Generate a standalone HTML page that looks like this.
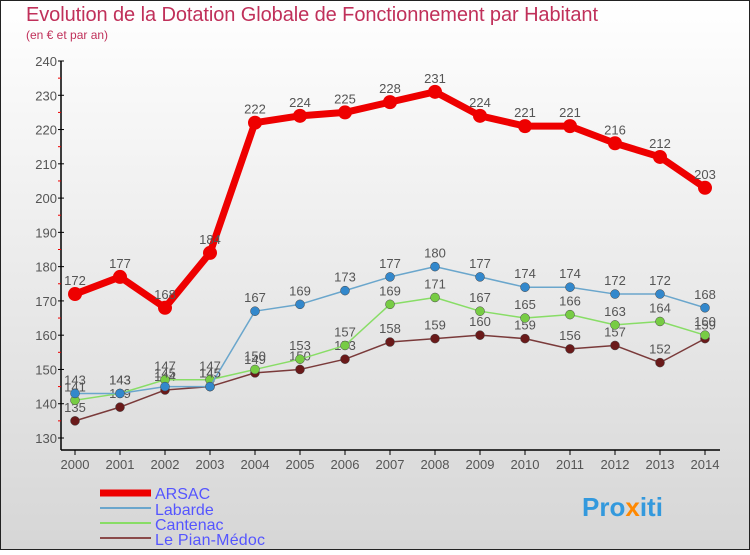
<!DOCTYPE html>
<html><head><meta charset="utf-8"><style>
body{margin:0}
#c{width:750px;height:550px;position:relative;font-family:"Liberation Sans",sans-serif}
svg text{font-family:"Liberation Sans",sans-serif}
</style></head><body>
<div id="c">
<svg id="s" width="750" height="550" xmlns="http://www.w3.org/2000/svg">
<defs><linearGradient id="bg" x1="0" y1="0" x2="0" y2="1"><stop offset="0" stop-color="#ffffff"/><stop offset="1" stop-color="#d6d6d6"/></linearGradient></defs>
<rect x="0.5" y="0.5" width="749" height="549" fill="url(#bg)" stroke="#222"/>
<text x="26" y="21" font-size="20" fill="#c0305a" textLength="572">Evolution de la Dotation Globale de Fonctionnement par Habitant</text>
<text x="26" y="39" font-size="12" fill="#c0305a">(en € et par an)</text>
<g id="axes"></g><g id="series"></g>
<g>
<line x1="100" y1="493" x2="151" y2="493" stroke="#ee0000" stroke-width="7"/>
<text x="155" y="499" font-size="16" fill="#5555ff">ARSAC</text>
<line x1="100" y1="508" x2="151" y2="508" stroke="#6aa6cc" stroke-width="2"/>
<text x="155" y="515" font-size="16" fill="#5555ff">Labarde</text>
<line x1="100" y1="523" x2="151" y2="523" stroke="#88dd66" stroke-width="2"/>
<text x="155" y="530" font-size="16" fill="#5555ff">Cantenac</text>
<line x1="100" y1="538" x2="151" y2="538" stroke="#8a4a4a" stroke-width="2"/>
<text x="155" y="545" font-size="16" fill="#5555ff" textLength="110">Le Pian-Médoc</text>
</g>
<text x="582" y="516" font-size="26" font-weight="bold" fill="#3399dd">Pro<tspan fill="#ff8800">x</tspan>iti</text>
</svg></div>
<script>
const years=[2000,2001,2002,2003,2004,2005,2006,2007,2008,2009,2010,2011,2012,2013,2014];
const arsac=[172,177,168,184,222,224,225,228,231,224,221,221,216,212,203];
const labarde=[143,143,145,145,167,169,173,177,180,177,174,174,172,172,168];
const cantenac=[141,143,147,147,150,153,157,169,171,167,165,166,163,164,160];
const pian=[135,139,144,145,149,150,153,158,159,160,159,156,157,152,159];
const yTicks=[130,140,150,160,170,180,190,200,210,220,230,240];
const NS="http://www.w3.org/2000/svg";
const X=i=>75+i*45, Y=v=>438-(v-130)*(377/110);
function mk(t,a,p){const e=document.createElementNS(NS,t);for(const k in a)e.setAttribute(k,a[k]);p.appendChild(e);return e;}
const ax=document.getElementById('axes');
let l=mk('line',{x1:61,y1:61,x2:61,y2:450,stroke:'#000','stroke-width':1.5},ax);


l=mk('line',{x1:61,y1:450,x2:720,y2:450,stroke:'#000','stroke-width':1.5},ax);


yTicks.forEach(v=>{
 mk('line',{x1:58,y1:Y(v),x2:64,y2:Y(v),stroke:'#000'},ax);
 if(v<240)mk('line',{x1:58,y1:Y(v+5),x2:61,y2:Y(v+5),stroke:'#e00'},ax);
 const t=mk('text',{x:57,y:Y(v)+5,'font-size':13,fill:'#555','text-anchor':'end'},ax);t.textContent=v;
 
 
});
years.forEach((y,i)=>{
 mk('line',{x1:X(i),y1:450,x2:X(i),y2:455,stroke:'#000'},ax);
 const t=mk('text',{x:X(i),y:469,'font-size':13,fill:'#555','text-anchor':'middle'},ax);t.textContent=y;
 
 
});
const sg=document.getElementById('series');
function draw(d,col,w,r,name,dot){
 const g=mk('g',{},sg);
 
 
 mk('polyline',{points:d.map((v,i)=>X(i)+','+Y(v)).join(' '),fill:'none',stroke:col,'stroke-width':w,'stroke-linejoin':'round'},g);
 d.forEach((v,i)=>{
  const c=mk('circle',{cx:X(i),cy:Y(v),r:r,fill:dot,stroke:col==dot?'none':'#444','stroke-width':0.5},g);
  
  
  const t=mk('text',{x:X(i),y:Y(v)-9,'font-size':13,fill:'#555','text-anchor':'middle'},g);t.textContent=v;
  
  
 });
}
draw(pian,'#7a3a3a',1.5,4.5,'le-pian-medoc','#6a1a1a');
draw(cantenac,'#88dd66',1.5,4.5,'cantenac','#77cc44');
draw(labarde,'#6aa6cc',1.5,4.5,'labarde','#3388cc');
draw(arsac,'#ee0000',7,7,'arsac','#ee0000');
</script>
</body></html>
